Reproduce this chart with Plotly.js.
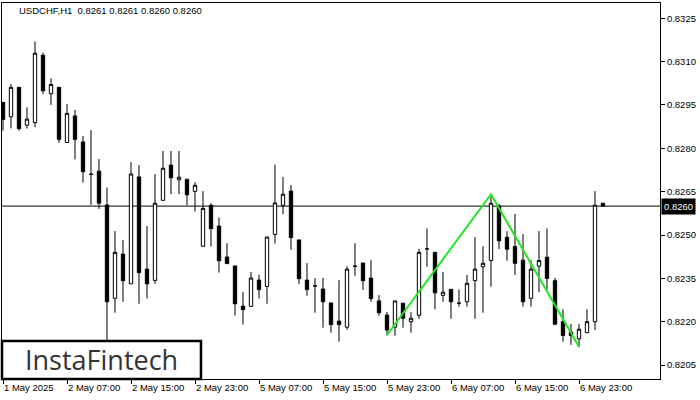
<!DOCTYPE html>
<html>
<head>
<meta charset="utf-8">
<script src="https://cdn.plot.ly/plotly-3.0.1.min.js"></script>
<style>
html,body{margin:0;padding:0;background:#fff;}
#chart{width:700px;height:400px;}
</style>
</head>
<body>
<div id="chart"></div>
<script>
// Hourly bars, index 0 = 1 May 2025 23:00 (weekend gap skipped)
const openP = [0.82959,0.82909,0.83011,0.82880,0.82889,0.83122,0.82989,0.83011,0.82820,0.82912,
0.82822,0.82710,0.82721,0.82604,0.82281,0.82434,0.82331,0.82701,0.82382,0.82343,
0.82620,0.82742,0.82691,0.82693,0.82651,0.82461,0.82603,0.82531,0.82424,0.82393,
0.82254,0.82253,0.82344,0.82322,0.82502,0.82603,0.82652,0.82483,0.82344,0.82324,
0.82313,0.82265,0.82202,0.82181,0.82392,0.82403,0.82351,0.82272,0.82223,0.82181,
0.82264,0.82200,0.82222,0.82452,0.82440,0.82291,0.82312,0.82264,0.82269,0.82342,
0.82390,0.82412,0.82600,0.82492,0.82460,0.82413,0.82281,0.82392,0.82423,0.82342,
0.82200,0.82164,0.82141,0.82162,0.82200,0.82610];
const highP = [0.82959,0.83022,0.83011,0.82942,0.83170,0.83131,0.83042,0.83011,0.82953,0.82933,
0.82843,0.82863,0.82763,0.82664,0.82514,0.82483,0.82752,0.82742,0.82531,0.82711,
0.82791,0.82791,0.82791,0.82693,0.82683,0.82652,0.82610,0.82561,0.82472,0.82393,
0.82303,0.82372,0.82363,0.82493,0.82743,0.82701,0.82673,0.82483,0.82403,0.82351,
0.82352,0.82265,0.82344,0.82392,0.82472,0.82403,0.82413,0.82292,0.82234,0.82272,
0.82264,0.82233,0.82452,0.82523,0.82440,0.82372,0.82312,0.82312,0.82362,0.82493,
0.82461,0.82633,0.82607,0.82513,0.82573,0.82503,0.82412,0.82514,0.82523,0.82352,
0.82243,0.82192,0.82192,0.82243,0.82652,0.82610];
const lowP = [0.82861,0.82869,0.82861,0.82868,0.82873,0.82988,0.82950,0.82819,0.82820,0.82762,
0.82681,0.82604,0.82590,0.82130,0.82231,0.82269,0.82331,0.82262,0.82280,0.82331,
0.82620,0.82641,0.82641,0.82603,0.82581,0.82461,0.82460,0.82370,0.82401,0.82221,
0.82190,0.82253,0.82280,0.82262,0.82470,0.82572,0.82449,0.82330,0.82290,0.82231,
0.82179,0.82162,0.82131,0.82172,0.82359,0.82310,0.82269,0.82221,0.82152,0.82152,
0.82179,0.82162,0.82210,0.82390,0.82243,0.82269,0.82210,0.82252,0.82252,0.82210,
0.82231,0.82321,0.82451,0.82411,0.82362,0.82252,0.82252,0.82302,0.82312,0.82191,
0.82131,0.82120,0.82111,0.82162,0.82171,0.82600];
const closeP = [0.82900,0.83011,0.82868,0.82901,0.83129,0.82999,0.83021,0.82831,0.82921,0.82831,
0.82719,0.82710,0.82610,0.82269,0.82440,0.82342,0.82711,0.82370,0.82331,0.82610,
0.82731,0.82698,0.82700,0.82639,0.82672,0.82592,0.82522,0.82411,0.82401,0.82262,
0.82242,0.82351,0.82311,0.82493,0.82611,0.82641,0.82491,0.82349,0.82311,0.82324,
0.82269,0.82190,0.82190,0.82382,0.82392,0.82342,0.82280,0.82231,0.82171,0.82272,
0.82212,0.82212,0.82440,0.82452,0.82300,0.82302,0.82269,0.82264,0.82333,0.82382,
0.82402,0.82610,0.82480,0.82451,0.82402,0.82269,0.82382,0.82412,0.82350,0.82191,
0.82152,0.82152,0.82174,0.82200,0.82603,0.82600];
const barIndex = openP.map((_, i) => i);

const xTickIndex = [0, 8, 16, 24, 32, 40, 48, 56, 64, 72];
const xTickText = ["1 May 2025","2 May 07:00","2 May 15:00","2 May 23:00","5 May 07:00",
                   "5 May 15:00","5 May 23:00","6 May 07:00","6 May 15:00","6 May 23:00"];
const yTickVals = [0.8205,0.8220,0.8235,0.8250,0.8265,0.8280,0.8295,0.8310,0.8325];
const yTickText = ["0.8205","0.8220","0.8235","0.8250","0.8265","0.8280","0.8295","0.8310","0.8325"];

const currentPrice = 0.8260;
const currentPriceText = "0.8260";
const titleText = "USDCHF,H1\u00a0 0.8261 0.8261 0.8260 0.8260";

// Double-bottom pattern line
const patternX = [48, 61, 72];
const patternY = [0.82154, 0.82641, 0.82113];

const font = "Liberation Sans, Arial, sans-serif";

const candles = {
  type: "candlestick",
  x: barIndex, open: openP, high: highP, low: lowP, close: closeP,
  increasing: {line: {color: "#000", width: 1}, fillcolor: "#fff"},
  decreasing: {line: {color: "#000", width: 1}, fillcolor: "#000"},
  whiskerwidth: 0,
  hoverinfo: "skip",
  showlegend: false
};
const pattern = {
  type: "scatter", mode: "lines",
  x: patternX, y: patternY,
  line: {color: "#22e622", width: 2},
  hoverinfo: "skip", showlegend: false
};

const layout = {
  width: 700, height: 400,
  margin: {l: 2, r: 40, t: 3, b: 21, pad: 0},
  paper_bgcolor: "#fff", plot_bgcolor: "#fff",
  showlegend: false,
  boxgap: 0.4,
  xaxis: {
    range: [-0.125, 82.125], fixedrange: true,
    rangeslider: {visible: false},
    showgrid: false, zeroline: false,
    showline: true, mirror: true, linecolor: "#000", linewidth: 1,
    tickmode: "array", tickvals: xTickIndex, ticktext: xTickText,
    ticks: "outside", ticklen: 4, tickcolor: "#000", tickwidth: 1,
    ticklabelposition: "outside right",
    tickfont: {family: font, size: 9.5, color: "#000"}
  },
  yaxis: {
    range: [0.820017, 0.833028], fixedrange: true,
    side: "right",
    showgrid: false, zeroline: false,
    showline: true, mirror: true, linecolor: "#000", linewidth: 1,
    tickmode: "array", tickvals: yTickVals, ticktext: yTickText,
    ticks: "outside", ticklen: 4, tickcolor: "#000", tickwidth: 1,
    tickfont: {family: font, size: 9.5, color: "#000"}
  },
  shapes: [
    {type: "line", xref: "paper", x0: 0, x1: 1, yref: "y", y0: currentPrice, y1: currentPrice,
     line: {color: "#000", width: 1}, layer: "below"},
    {type: "rect", xref: "paper", yref: "paper", x0: 0, x1: 0.3024, y0: 0, y1: 0.101,
     fillcolor: "#fff", line: {color: "#000", width: 2.5}, layer: "above"}
  ],
  annotations: [
    {xref: "paper", yref: "paper", x: 0.0233, y: 0.981, xanchor: "left", yanchor: "middle",
     text: titleText, showarrow: false, font: {family: font, size: 9.5, color: "#000"}},
    {xref: "paper", yref: "y", x: 1, y: currentPrice, xanchor: "left", yanchor: "middle",
     xshift: 1, text: currentPriceText, showarrow: false, bgcolor: "#000", borderpad: 2,
     font: {family: font, size: 9.5, color: "#fff"}},
    {xref: "paper", yref: "paper", x: 0.151, y: 0.052, xanchor: "center", yanchor: "middle",
     text: "InstaFintech", showarrow: false,
     font: {family: "Open Sans, sans-serif", size: 27, color: "#333", weight: 500}}
  ]
};

Plotly.newPlot("chart", [candles, pattern], layout, {displayModeBar: false, staticPlot: true});
</script>
</body>
</html>
